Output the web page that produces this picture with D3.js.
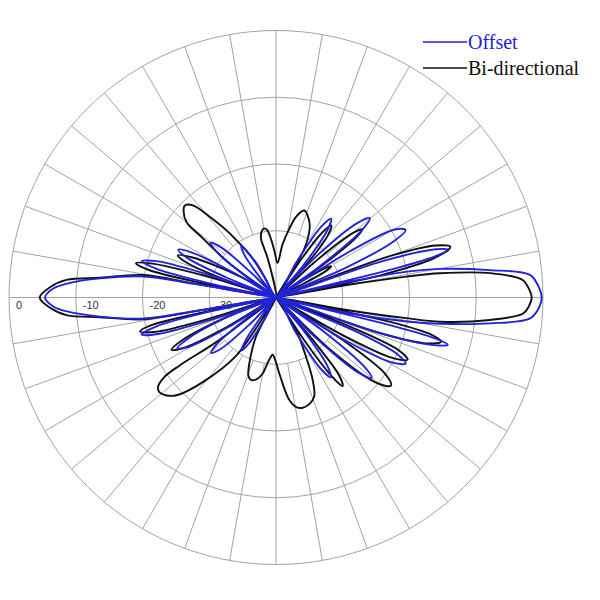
<!DOCTYPE html>
<html><head><meta charset="utf-8">
<script src="https://cdn.jsdelivr.net/npm/d3@7"></script>
<style>body{margin:0;background:#fff}svg{display:block}text{-webkit-font-smoothing:antialiased}</style>
</head><body>
<svg id="chart" width="600" height="600"></svg>
<script>
// ---- data (angle in degrees, counter-clockwise from 3 o'clock; gain in dB) ----
const ringLevels = [-30, -20, -10, 0];
const ringLabels = ["-30", "-20", "-10", "0"];
const seriesNames = ["Offset", "Bi-directional"];
const seriesColors = ["#2222dd", "#111111"];

const offsetPattern = [
  [0,-0.2],[2.6,-0.7],[5.1,-1.8],[7.3,-7.7],[9.9,-15.1],[11.2,-20],[12.2,-29],[13,-40],
  [13.7,-22],[14.5,-15.5],[15.4,-13.1],[16.8,-15],[18.8,-23],[21,-40],
  [23,-29],[25.5,-20.5],[27.5,-18.1],[29.8,-19.5],[32,-27],[33.8,-40],
  [35.5,-32],[38,-23.8],[40.2,-21.6],[42.5,-23.5],[45.5,-31],[47.5,-40],
  [49.5,-34],[52.5,-27.5],[55,-25.6],[57.5,-27.5],[60,-34],[90,-40],
  [119,-37],[121.5,-32.5],[124,-30.7],[126.5,-32],[129,-36.5],[132,-40],
  [135,-35],[137.5,-29],[140,-27.2],[142.5,-28.8],[145,-34.5],[147,-40],
  [149.5,-33],[152,-25.5],[154,-23.7],[156,-25.5],[158,-32],[159.8,-40],
  [161.2,-30],[163,-21.5],[164.8,-19.2],[166.5,-21.5],[168,-30],[169,-40],
  [170.5,-28],[171,-19.9],[173.8,-13.5],[176.2,-8.6],[177.7,-6.6],[180,-5.4],[182.3,-6.6],[183.8,-8.6],[186.2,-13.5],[189,-19.9],[189.5,-28],[191,-40],
  [192,-30],[193.6,-21.5],[195.4,-19.1],[197.2,-21.5],[199,-30],[200.5,-40],
  [202,-32],[205,-25.5],[207.2,-23.4],[209.5,-25],[212,-32],[214,-40],
  [215.5,-35],[218,-29],[220.5,-27.2],[223,-28.8],[225.5,-34.5],[228.5,-40],
  [232,-37],[234.5,-32.3],[237,-30.5],[239.5,-32],[242,-36.5],[270,-40],
  [299.5,-34],[302,-27.5],[304.5,-25.5],[307,-27.3],[310,-34],[312.5,-40],
  [314.5,-32],[317.5,-23.5],[320,-21.3],[322,-23.3],[324.5,-31],[326.5,-40],
  [328,-29],[330.5,-20.5],[333,-18.2],[335,-20],[337,-27],[339,-40],
  [341.2,-23],[343.2,-15.3],[344.6,-13.3],[345.6,-15.5],[346.3,-22],[347.2,-40],
  [347.8,-29],[349.6,-20.1],[350.9,-15.1],[353.1,-7.7],[355.3,-1.8],[357.4,-0.7]
];

const bidirPattern = [
  [0,-1.7],[2,-2.1],[4,-2.9],[6.5,-7.7],[8.4,-15.2],[9.1,-20.2],[10,-29],[11,-40],
  [12,-24],[14,-15.5],[16.2,-12.8],[18,-14.8],[20,-22],[22.5,-40],
  [26.5,-36],[28,-31.5],[29.5,-30.5],[31,-31.5],[32.5,-36],[33.5,-40],
  [34.5,-33],[36.5,-25.5],[38.2,-23.5],[40,-25],[42.5,-32],[45,-40],
  [47,-34],[50,-28],[52.5,-26.4],[54.5,-28],[56.5,-33],[58.5,-40],
  [59.8,-31.6],[64,-28.5],[67.2,-27.3],[72,-26.3],[76,-27.5],[79,-29.5],[83,-32],[87.5,-34.8],
  [92,-33],[94.9,-31.2],[97.5,-29.8],[99.6,-29.5],[102,-29.8],[104.3,-30.9],[103.5,-32.5],[102,-34],[104,-40],
  [119.8,-34.2],[125.8,-28.2],[129.4,-24.4],[131.9,-21.5],[134.7,-20.6],[136.8,-21],[139.9,-22.5],[141,-25.8],[143.8,-31.5],[146.5,-40],
  [149.5,-34],[154.5,-26],[156.8,-24],[158.8,-25.8],[161,-33],[162,-40],
  [163,-29],[164.8,-20.5],[166.3,-18.4],[167.8,-20.5],[169,-29],[169.6,-40],
  [170.4,-28],[170.4,-19.8],[173.6,-13.5],[175.2,-8.5],[177.4,-6.1],[180,-4.6],[182.6,-6.1],[184.8,-8.5],[186.4,-13.5],[189.3,-19.8],[189.6,-28],[190.5,-40],
  [191.5,-29],[192.5,-21],[194,-19],[195.8,-21],[197.5,-29],[199.5,-40],
  [201.5,-32],[204.5,-24.5],[206.6,-22.5],[208.8,-24.5],[211,-31],[214,-40],
  [217,-34],[216.8,-28.9],[215.2,-22.4],[215.5,-19.4],[217.2,-17.8],[219.2,-17.5],[221.5,-17.9],[224.5,-19.1],[229.2,-23.3],[235.7,-29.5],[240.5,-40],
  [243,-33.4],[247.9,-29.4],[250.5,-27.6],[253.1,-27.1],[256.5,-27.4],[260,-28.4],[263.5,-30.5],[266.7,-31.4],[269.5,-30.5],
  [272.5,-28.6],[277.4,-24.5],[280.5,-23.3],[283.6,-23],[287.5,-23.3],[291.1,-24.1],[294,-26.5],[296.9,-30.1],[301.6,-34.3],[302.5,-40],
  [303.5,-32],[305.3,-25.5],[307,-23.4],[309,-25],[311,-32],[313.5,-40],
  [316,-29],[319.5,-20.5],[322.5,-18.3],[325,-20],[327.5,-28],[329.5,-40],
  [330.5,-29],[332.5,-20.5],[334.7,-18.2],[336.7,-20],[338.5,-28],[340,-40],
  [341,-24],[343,-16.5],[345,-14.4],[346.5,-16],[348,-23],[349,-40],
  [350,-29],[351,-20.2],[351.6,-15.2],[354,-7.8],[356.3,-2.9],[358,-2.1]
];

// ---- layout ----
const cx = 276, cy = 297.5, R = 267;
const svg = d3.select("#chart");
const g = svg.append("g").attr("transform", `translate(${cx},${cy})`);
const r = d3.scaleLinear().domain([-40, 0]).range([0, R]).clamp(true);
const toRad = d => d * Math.PI / 180;
const gridColor = "#a3a3a3";

// rings
g.selectAll("circle.ring").data(ringLevels).join("circle")
  .attr("class", "ring").attr("r", d => r(d))
  .attr("fill", "none").attr("stroke", gridColor).attr("stroke-width", 1);

// spokes every 10 degrees
const spokeAngles = d3.range(0, 360, 10);
g.selectAll("line.spoke").data(spokeAngles).join("line")
  .attr("class", "spoke")
  .attr("x1", a => (a % 90 === 0 ? 0 : r(-30)) * Math.cos(toRad(a)))
  .attr("y1", a => -(a % 90 === 0 ? 0 : r(-30)) * Math.sin(toRad(a)))
  .attr("x2", a => r(0) * Math.cos(toRad(a)))
  .attr("y2", a => -r(0) * Math.sin(toRad(a)))
  .attr("stroke", gridColor).attr("stroke-width", 1);

// ring labels along the left horizontal axis
g.selectAll("text.rl").data(ringLevels).join("text")
  .attr("class", "rl")
  .attr("x", (d) => -r(d) + 7)
  .attr("y", 11.5)
  .attr("font-family", "Liberation Sans, Arial, sans-serif")
  .attr("font-size", 11).attr("fill", "#333")
  .text((d, i) => ringLabels[i]);

// patterns
const line = d3.lineRadial()
  .angle(d => toRad(90 - d[0]))
  .radius(d => r(d[1]))
  .curve(d3.curveCatmullRomClosed.alpha(0.5));

const patterns = [bidirPattern, offsetPattern];
const pColors = [seriesColors[1], seriesColors[0]];
g.selectAll("path.pat").data(patterns).join("path")
  .attr("class", "pat")
  .attr("d", d => line(d))
  .attr("fill", "none")
  .attr("stroke", (d, i) => pColors[i])
  .attr("stroke-width", 1.9)
  .attr("stroke-linejoin", "round");

// legend
const leg = svg.append("g");
const legY = [42, 68];
seriesNames.forEach((name, i) => {
  leg.append("line").attr("x1", 423).attr("x2", 467)
    .attr("y1", legY[i]).attr("y2", legY[i])
    .attr("stroke", seriesColors[i]).attr("stroke-width", 1.3);
  leg.append("text").attr("x", 468).attr("y", legY[i] + 7)
    .attr("font-family", "Liberation Serif, Times New Roman, serif")
    .attr("font-size", 20).attr("fill", seriesColors[i])
    .text(name);
});
</script>
</body></html>
